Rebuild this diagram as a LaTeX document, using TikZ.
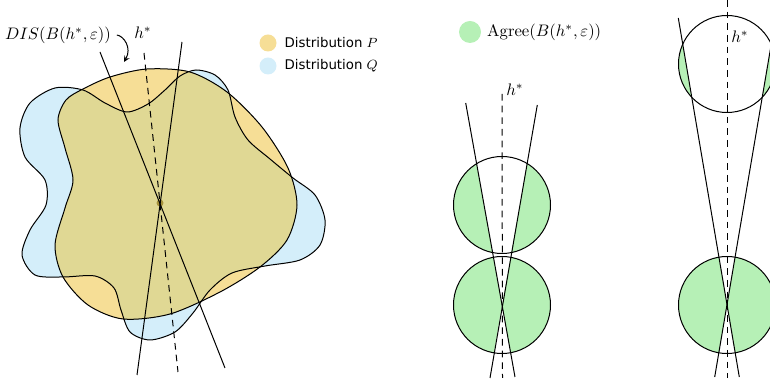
\documentclass[tikz,border=0pt]{standalone}
\usepackage{amsmath}
\usepackage{tikz}
\usepackage{xcolor}
\usepackage{fontspec}
\newfontfamily\legendfont{DejaVu Sans}
\usetikzlibrary{positioning}

\definecolor{distp}{RGB}{246,222,150}
\definecolor{distq}{RGB}{212,238,250}
\definecolor{distpq}{RGB}{224,216,148}
\definecolor{agree}{RGB}{182,240,182}
\definecolor{dotcol}{RGB}{165,145,60}

\newcommand{\blobp}{plot[smooth cycle] coordinates {(83,89) (110,77) (147,69) (190,72) (227,92) (262,127) (288,168) (297,205) (287,240) (260,267) (220,292) (170,314) (123,319) (88,305) (63,277) (55,245) (65,208) (73,180) (65,148) (58,120) (66,100)}}
\newcommand{\blobq}{plot[smooth cycle] coordinates {(55,88) (83,90) (105,103) (127,112) (148,104) (165,90) (180,76) (196,70) (215,75) (228,90) (235,117) (248,140) (270,159) (293,178) (315,195) (325,220) (320,245) (300,260) (265,266) (232,273) (210,290) (193,313) (175,332) (150,340) (130,332) (121,310) (114,288) (95,276) (63,277) (35,275) (22,255) (30,230) (46,205) (45,180) (25,157) (20,128) (30,103)}}

\tikzset{
    hyp/.style={line width=0.6pt},
    hstar/.style={line width=0.6pt, dash pattern=on 4pt off 3pt},
    ball/.style={line width=0.6pt},
    legdot/.style={circle, inner sep=0pt, minimum size=#1},
}

\begin{document}
\begin{tikzpicture}[x=0.6pt,y=-0.6pt]
            \useasboundingbox (0,0) rectangle (770,383);
            \clip (0,0) rectangle (770,383);

            \fill[distq] \blobq;
            \fill[distp] \blobp;
            \begin{scope}
                \clip \blobq;
                \fill[distpq] \blobp;
            \end{scope}
            \draw[ball] \blobq;
            \draw[ball] \blobp;
            \fill[dotcol] (160,203) circle (3.5);

            \draw[hyp] (100,52) -- (225,368);
            \draw[hyp] (182,42) -- (137,375);
            \draw[hstar] (144,53) -- (178,372);

            \node (dis) at (58,35) {$DIS(B(h^*,\varepsilon))$};
            \node (hl) at (143,33) {$h^*$};
            \coordinate (dishit) at (124,62);
            \draw[-stealth, line width=0.6pt] (dis.east) .. controls (124,36) and (132,48) .. (dishit);

            \node[legdot=10.2pt, fill=distp] (legp) at (268,43) {};
            \node[legdot=10.2pt, fill=distq] (legq) at (268,66) {};
            \node[right=1.2pt of legp, font=\legendfont\footnotesize] (txtp) {Distribution $P$};
            \node[right=1.2pt of legq, font=\legendfont\footnotesize] (txtq) {Distribution $Q$};

            \node[legdot=13.2pt, fill=agree] (lega) at (470,32) {};
            \node[right=0pt of lega] (txta) {$\mathrm{Agree}(B(h^*,\varepsilon))$};

            \coordinate (mc) at (502,305);
            \coordinate (m1t) at (465.7,103);
            \coordinate (m1b) at (515,377);
            \coordinate (m2t) at (537.3,105);
            \coordinate (m2b) at (490,378);
            \foreach \cy in {205,305} {
                \begin{scope}
                    \clip (502,\cy) circle (48.5);
                    \fill[agree] (502,\cy) circle (48.5);
                    \fill[white] (mc) -- (m1t) -- (m2t) -- cycle;
                    \fill[white] (mc) -- (m1b) -- (m2b) -- cycle;
                \end{scope}
                \draw[ball] (502,\cy) circle (48.5);
            }
            \draw[hyp] (m1t) -- (m1b);
            \draw[hyp] (m2t) -- (m2b);
            \draw[hstar] (502,94) -- (502.5,378);
            \node (hm) at (515,90) {$h^*$};

            \coordinate (rc) at (727,305);
            \coordinate (r1t) at (678.3,18);
            \coordinate (r1b) at (739.3,377);
            \coordinate (r2t) at (775.7,18);
            \coordinate (r2b) at (714.7,377);
            \foreach \cy in {64,305} {
                \begin{scope}
                    \clip (727,\cy) circle (48.5);
                    \fill[agree] (727,\cy) circle (48.5);
                    \fill[white] (rc) -- (675.2,0) -- (778.8,0) -- cycle;
                    \fill[white] (rc) -- (r1b) -- (r2b) -- cycle;
                \end{scope}
                \draw[ball] (727,\cy) circle (48.5);
            }
            \draw[hyp] (r1t) -- (r1b);
            \draw[hyp] (r2t) -- (r2b);
            \draw[hstar] (727,0) -- (727,378);
            \node (hr) at (740,37) {$h^*$};
    \end{tikzpicture}
\end{document}
